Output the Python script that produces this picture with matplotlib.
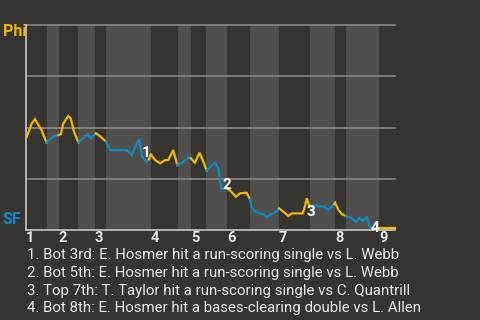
import matplotlib
matplotlib.use("Agg")
import matplotlib.pyplot as plt

bg = "#363430"
band = "#504f4d"
grid_gray = "#8a8886"
axis_gray = "#c8c8c8"
phi_yellow = "#f5b700"
sf_blue = "#0e8cc8"
text_light = "#e8e8e8"

# half-inning boundaries (plate appearance index) and which team is batting
half_starts = [0, 5.0, 8.0, 12.7, 16.8, 19.5, 30.5, 37.1, 40.2, 43.9,
               49.0, 54.6, 61.7, 69.3, 75.4, 78.0, 86.1]
half_ends = half_starts[1:] + [90]
inning_labels = ["1", "2", "3", "4", "5", "6", "7", "8", "9"]

# win probability for Phi (%) per half inning
pa_x = [
    [0.2, 1.4, 2.2, 3.8, 5.0],
    [5.7, 6.9, 7.9],
    [8.5, 9.1, 10.3, 10.9, 11.7, 12.8],
    [13.8, 15.0, 15.8, 17.0],
    [18.0, 19.5],
    [20.5, 24.6, 25.8, 26.8, 27.6, 28.2, 28.6, 29.4, 30.0],
    [30.4, 31.5, 32.7, 33.9, 34.7, 35.9, 36.9],
    [38.0, 39.8, 40.2],
    [41.2, 42.3, 43.1, 44.1],
    [45.0, 46.1, 46.9, 47.3, 47.7, 49.0],
    [49.8, 51.2, 52.2, 53.8, 54.6],
    [55.0, 55.9, 57.1, 57.9, 58.9, 59.9, 61.1, 61.7],
    [62.8, 64.0, 64.8, 67.5, 68.0, 68.5, 69.0, 69.3],
    [69.9, 70.9, 71.7, 72.7, 73.7, 75.2],
    [75.4, 76.2, 77.0, 78.0],
    [79.0, 80.5, 81.3, 82.1, 83.1, 83.9, 84.7, 86.1],
    [86.3, 90.0],
]
phi_wp = [
    [45.5, 52.0, 54.0, 48.8, 42.6],
    [43.9, 45.9, 46.3],
    [46.7, 52.0, 55.6, 54.5, 48.0, 42.6],
    [44.7, 46.7, 44.7, 47.2],
    [45.9, 43.1],
    [39.0, 39.0, 36.6, 41.5, 44.2, 36.6, 35.0, 33.3, 34.5],
    [37.1, 34.1, 32.5, 34.1, 34.1, 39.0, 31.7],
    [32.8, 35.5, 35.0],
    [32.8, 37.7, 34.1, 28.9],
    [30.9, 32.8, 30.1, 24.7, 19.9, 20.3],
    [19.2, 16.2, 17.9, 18.2, 15.0],
    [11.4, 8.9, 8.1, 7.8, 6.2, 7.8, 8.9, 10.6],
    [8.9, 6.8, 8.1, 8.1, 11.4, 15.5, 12.2, 11.4],
    [11.4, 12.2, 11.4, 11.4, 9.8, 12.7],
    [13.3, 9.8, 7.8, 6.8],
    [6.2, 4.0, 5.7, 4.5, 6.2, 1.6, 0.8, 0.8],
    [0.8, 0.8],
]

event_x = [29.4, 49.0, 69.5, 85.1]
event_y = [37.6, 22.0, 8.9, 0.8]
event_text = [
    "1. Bot 3rd: E. Hosmer hit a run-scoring single vs L. Webb",
    "2. Bot 5th: E. Hosmer hit a run-scoring single vs L. Webb",
    "3. Top 7th: T. Taylor hit a run-scoring single vs C. Quantrill",
    "4. Bot 8th: E. Hosmer hit a bases-clearing double vs L. Allen",
]

plt.rcParams["font.family"] = ["Roboto", "DejaVu Sans"]

fig = plt.figure(figsize=(4.8, 3.2), dpi=100, facecolor=bg)
ax = fig.add_axes([26 / 480, 1 - 230 / 320, 369 / 480, 205 / 320])
ax.set_facecolor(bg)
ax.set_xlim(0, 90)
ax.set_ylim(0, 100)

# shaded bottom halves
for i, (s, e) in enumerate(zip(half_starts, half_ends)):
    if i % 2 == 1:
        ax.axvspan(s, e, color=band, lw=0, zorder=0)

for g in [25, 50, 75, 100]:
    ax.axhline(g, color=grid_gray, lw=1.2, zorder=1, clip_on=False)

# line segments coloured by team at bat
prev = None
for i in range(len(pa_x)):
    xs = list(pa_x[i])
    ys = list(phi_wp[i])
    if prev is not None:
        xs = [prev[0]] + xs
        ys = [prev[1]] + ys
    col = phi_yellow if i % 2 == 0 else sf_blue
    ax.plot(xs, ys, color=col, lw=1.6, zorder=3, solid_joinstyle="miter",
            clip_on=False)
    prev = (pa_x[i][-1], phi_wp[i][-1])

for k in range(len(event_x)):
    ax.text(event_x[k], event_y[k], str(k + 1), color="white", fontsize=11,
            fontweight="bold", ha="center", va="center", zorder=5)

for sp in ["top", "right"]:
    ax.spines[sp].set_visible(False)
for sp in ["left", "bottom"]:
    ax.spines[sp].set_color(axis_gray)
    ax.spines[sp].set_linewidth(1.2)

ax.set_xticks(half_starts[::2])
ax.set_xticklabels(inning_labels, ha="left", fontsize=10.5, fontweight="bold",
                   color=text_light)
ax.tick_params(axis="x", length=0, pad=1)
ax.set_yticks([])

fig.text(2.5 / 480, 1 - 31 / 320, "Phi", color=phi_yellow, fontsize=11.5,
         fontweight="bold", ha="left", va="center")
fig.text(2.5 / 480, 1 - 219 / 320, "SF", color=sf_blue, fontsize=11.5,
         fontweight="bold", ha="left", va="center")

for k, t in enumerate(event_text):
    fig.text(27 / 480, 1 - (255 + 17.8 * k) / 320, t, color=text_light,
             fontsize=10.8, ha="left", va="center")

fig.savefig("out.png", dpi=100, facecolor=bg)
